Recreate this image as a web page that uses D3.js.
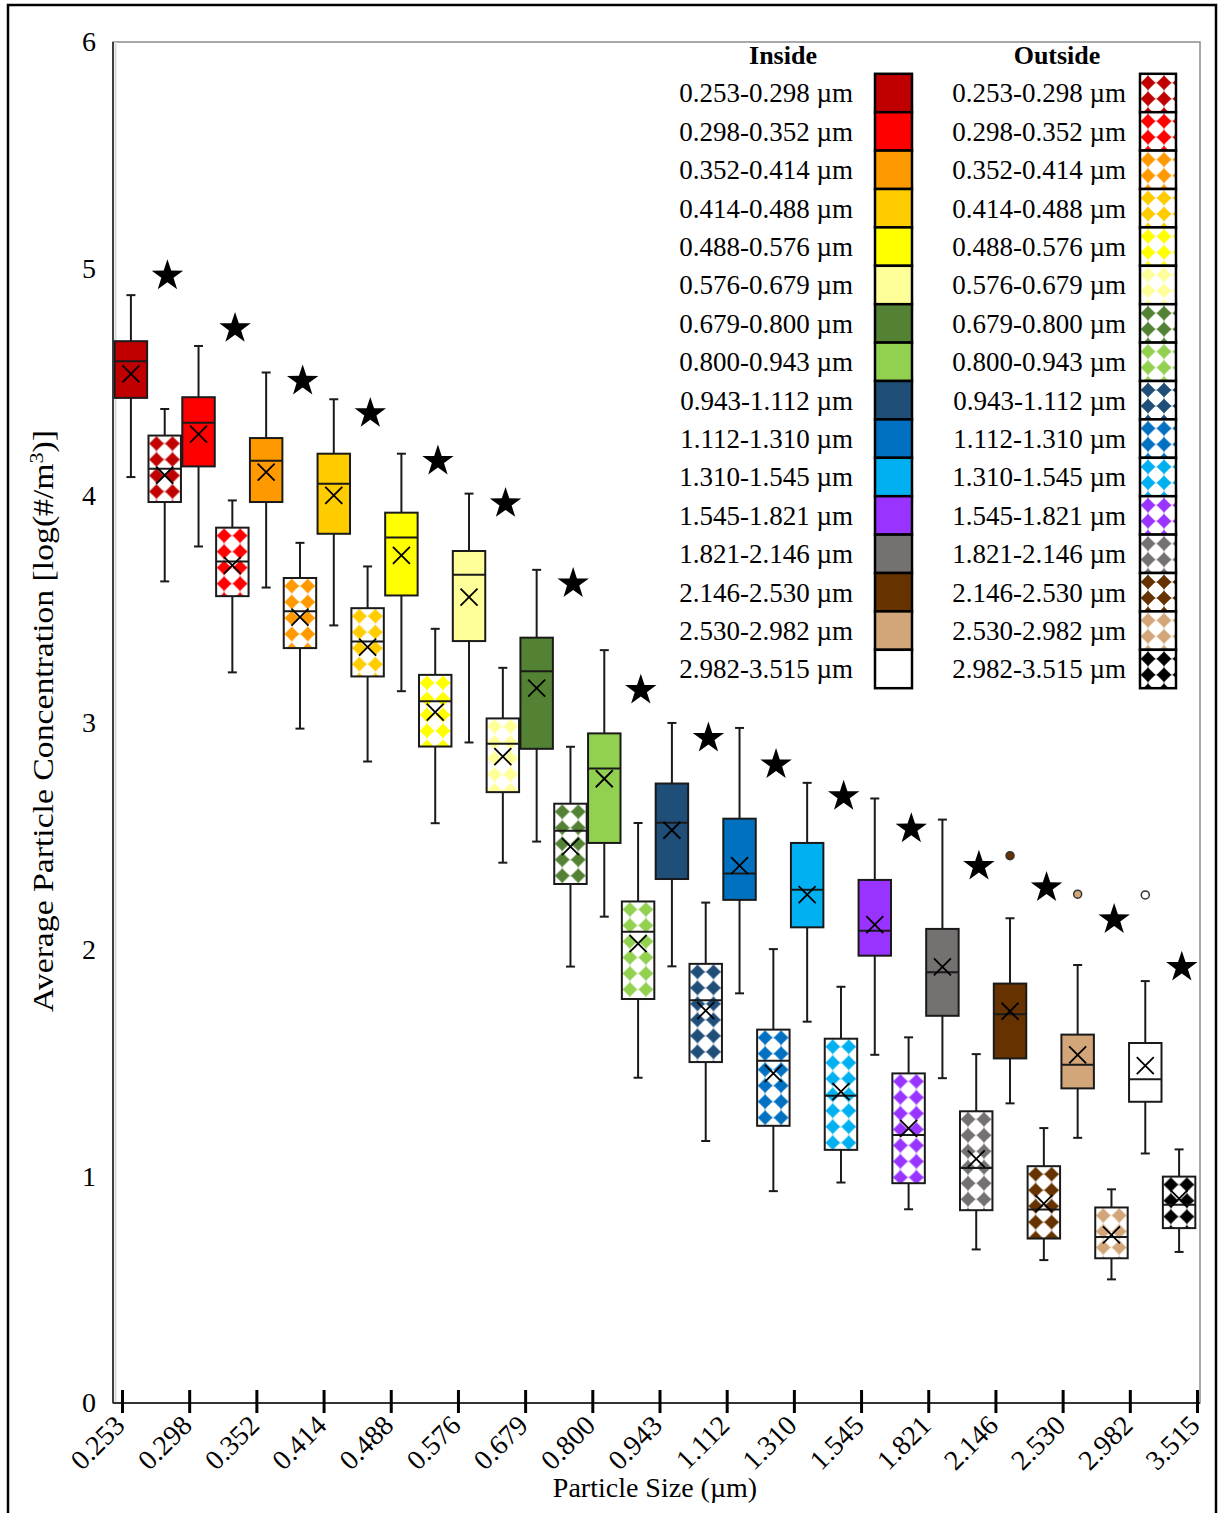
<!DOCTYPE html>
<html><head><meta charset="utf-8">
<script src="https://cdn.jsdelivr.net/npm/d3@7"></script>
<style>
body{margin:0;background:#fff}
svg{display:block}
text{font-family:"Liberation Serif","Times New Roman",serif;fill:#000}
</style>
</head><body>
<svg id="chart" width="1223" height="1513"></svg>
<script>
// ---------------- data ----------------
const bins = ["0.253-0.298","0.298-0.352","0.352-0.414","0.414-0.488","0.488-0.576","0.576-0.679","0.679-0.800","0.800-0.943","0.943-1.112","1.112-1.310","1.310-1.545","1.545-1.821","1.821-2.146","2.146-2.530","2.530-2.982","2.982-3.515"];
const edges = ["0.253","0.298","0.352","0.414","0.488","0.576","0.679","0.800","0.943","1.112","1.310","1.545","1.821","2.146","2.530","2.982","3.515"];
const insideColors  = ["#C00000","#FF0000","#FF9900","#FFCC00","#FFFF00","#FFFF99","#548235","#92D050","#1F4E79","#0070C0","#00B0F0","#9933FF","#767171","#663300","#D2A679","#FFFFFF"];
const outsideColors = ["#C00000","#FF0000","#FF9900","#FFCC00","#FFFF00","#FFFF99","#548235","#92D050","#1F4E79","#0070C0","#00B0F0","#9933FF","#767171","#663300","#D2A679","#000000"];

const inMax  = [4.884,4.660,4.543,4.425,4.185,4.009,3.673,3.319,2.998,2.976,2.734,2.665,2.572,2.137,1.931,1.860];
const inQ3   = [4.681,4.434,4.254,4.185,3.925,3.756,3.374,2.952,2.731,2.576,2.469,2.306,2.090,1.849,1.624,1.587];
const inMed  = [4.593,4.322,4.154,4.053,3.816,3.651,3.226,2.797,2.558,2.334,2.263,2.082,1.899,1.714,1.491,1.427];
const inMean = [4.537,4.271,4.104,4.001,3.737,3.553,3.152,2.752,2.525,2.369,2.241,2.109,1.923,1.727,1.535,1.487];
const inQ1   = [4.431,4.129,3.972,3.832,3.560,3.359,2.884,2.469,2.310,2.218,2.097,1.972,1.707,1.519,1.387,1.328];
const inMin  = [4.082,3.776,3.595,3.428,3.138,2.912,2.475,2.144,1.925,1.806,1.681,1.535,1.432,1.321,1.169,1.100];

const outMax  = [4.382,3.979,3.792,3.688,3.413,3.241,2.893,2.557,2.206,2.001,1.835,1.612,1.538,1.212,0.942,1.118];
const outQ3   = [4.265,3.859,3.637,3.504,3.210,3.018,2.642,2.211,1.936,1.646,1.606,1.453,1.286,1.044,0.862,0.998];
const outMed  = [4.119,3.710,3.490,3.357,3.094,2.906,2.523,2.077,1.776,1.509,1.354,1.182,1.036,0.853,0.732,0.874];
const outMean = [4.090,3.693,3.465,3.332,3.046,2.850,2.453,2.025,1.730,1.453,1.373,1.211,1.076,0.879,0.741,0.901];
const outQ1   = [3.972,3.557,3.328,3.203,2.894,2.693,2.288,1.781,1.503,1.222,1.116,0.969,0.850,0.725,0.638,0.771];
const outMin  = [3.622,3.221,2.973,2.828,2.556,2.382,1.924,1.434,1.155,0.934,0.972,0.854,0.677,0.630,0.545,0.666];

const starValues = [4.976,4.744,4.512,4.369,4.159,3.972,3.619,3.149,2.938,2.821,2.681,2.538,2.373,2.279,2.138,1.928];
const outlierBins   = ["2.146-2.530","2.530-2.982","2.982-3.515"];
const outlierValues = [2.413,2.243,2.240];
const yTickValues = [0,1,2,3,4,5,6];
const groups = ["Inside","Outside"];

// ---------------- setup ----------------
const svg = d3.select("#chart");
const plot = {left:113, right:1200, top:42, bottom:1403};
const y  = d3.scaleLinear().domain([0,6]).range([plot.bottom, plot.top]);
const x  = d3.scaleBand().domain(bins).range([114,1196]).padding(0);
const xs = d3.scaleBand().domain(groups).range([0, x.bandwidth()]).paddingInner(0.04).paddingOuter(0.02);
const xt = d3.scalePoint().domain(edges).range([122,1197]);
const ly = d3.scalePoint().domain(bins).range([93,669]);

const defs = svg.append("defs");
const tile = 16;
const diamondPath = "M8,0 L9,1.7 L14.3,7 L16,8 L14.3,9 L9,14.3 L8,16 L7,14.3 L1.7,9 L0,8 L1.7,7 L7,1.7 Z";
function makePattern(id, color, tx, ty){
  const p = defs.append("pattern").attr("id", id)
    .attr("patternUnits","userSpaceOnUse").attr("width",tile).attr("height",tile)
    .attr("patternTransform",`translate(${tx},${ty})`);
  p.append("rect").attr("width",tile).attr("height",tile).attr("fill","#fff");
  p.append("path").attr("d",diamondPath).attr("fill",color);
  return `url(#${id})`;
}

// outer frame
svg.append("rect").attr("x",8).attr("y",5).attr("width",1208).attr("height",1520)
  .attr("fill","#fff").attr("stroke","#000").attr("stroke-width",2.5);

// plot area
svg.append("rect").attr("x",plot.left).attr("y",plot.top)
  .attr("width",plot.right-plot.left).attr("height",plot.bottom-plot.top)
  .attr("fill","#fff").attr("stroke","#8c8c8c").attr("stroke-width",1.5);
svg.append("line").attr("x1",plot.left+2.5).attr("x2",plot.left+2.5).attr("y1",plot.top).attr("y2",plot.bottom)
  .attr("stroke","#d9d9d9").attr("stroke-width",2);
svg.append("line").attr("x1",plot.left).attr("x2",plot.left).attr("y1",plot.top).attr("y2",plot.bottom)
  .attr("stroke","#404040").attr("stroke-width",2);

// y axis
const yAxis = svg.append("g").attr("transform",`translate(${plot.left},0)`)
  .call(d3.axisLeft(y).tickValues(yTickValues).tickSize(0).tickPadding(17).tickFormat(d3.format("d")));
yAxis.select(".domain").remove();
yAxis.selectAll("text").attr("font-size",28).attr("font-family","Liberation Serif");

// x axis
const xAxis = svg.append("g").attr("transform",`translate(0,${plot.bottom})`)
  .call(d3.axisBottom(xt).tickSize(10).tickPadding(0));
xAxis.select(".domain").attr("d",`M${plot.left},0H${plot.right}`).attr("stroke","#333").attr("stroke-width",2);
xAxis.selectAll(".tick line").attr("y1",-13).attr("y2",10).attr("stroke","#000").attr("stroke-width",3);
xAxis.selectAll(".tick text")
  .attr("font-size",28).attr("font-family","Liberation Serif")
  .attr("text-anchor","end").attr("y",0).attr("dy",0)
  .attr("transform","translate(4,24) rotate(-45)");

// axis titles
const yt = svg.append("text").attr("transform","translate(53,721) rotate(-90)")
  .attr("text-anchor","middle").attr("font-size",29)
  .attr("textLength",582).attr("lengthAdjust","spacingAndGlyphs");
yt.append("tspan").text("Average Particle Concentration [log(#/m");
yt.append("tspan").attr("baseline-shift","super").attr("font-size",19).text("3");
yt.append("tspan").text(")]");
svg.append("text").attr("x",655).attr("y",1497).attr("text-anchor","middle").attr("font-size",28)
  .text("Particle Size (µm)");

// ---------------- boxes ----------------
const boxData = bins.flatMap((b,i)=>[
  {bin:b,i,grp:"Inside",min:inMin[i],q1:inQ1[i],med:inMed[i],q3:inQ3[i],max:inMax[i],mean:inMean[i]},
  {bin:b,i,grp:"Outside",min:outMin[i],q1:outQ1[i],med:outMed[i],q3:outQ3[i],max:outMax[i],mean:outMean[i]}
]);
const bw = xs.bandwidth();
const cx = d => x(d.bin) + xs(d.grp) + bw/2;

const g = svg.append("g");
const box = g.selectAll("g.box").data(boxData).join("g").attr("class","box");
box.append("line").attr("x1",cx).attr("x2",cx).attr("y1",d=>y(d.max)).attr("y2",d=>y(d.min))
  .attr("stroke","#1a1a1a").attr("stroke-width",2);
box.append("line").attr("x1",d=>cx(d)-4.5).attr("x2",d=>cx(d)+4.5).attr("y1",d=>y(d.max)).attr("y2",d=>y(d.max))
  .attr("stroke","#1a1a1a").attr("stroke-width",2);
box.append("line").attr("x1",d=>cx(d)-4.5).attr("x2",d=>cx(d)+4.5).attr("y1",d=>y(d.min)).attr("y2",d=>y(d.min))
  .attr("stroke","#1a1a1a").attr("stroke-width",2);
box.append("rect")
  .attr("x",d=>x(d.bin)+xs(d.grp)).attr("width",bw)
  .attr("y",d=>y(d.q3)).attr("height",d=>y(d.q1)-y(d.q3))
  .attr("fill",d=> d.grp==="Inside" ? insideColors[d.i]
        : makePattern("pb"+d.i, outsideColors[d.i], x(d.bin)+xs(d.grp), y(d.q3)))
  .attr("stroke","#1a1a1a").attr("stroke-width",2);
box.append("line").attr("x1",d=>x(d.bin)+xs(d.grp)).attr("x2",d=>x(d.bin)+xs(d.grp)+bw)
  .attr("y1",d=>y(d.med)).attr("y2",d=>y(d.med)).attr("stroke","#1a1a1a").attr("stroke-width",2);
box.append("path")
  .attr("d",d=>{const X=cx(d),Y=y(d.mean),s=8.5;return `M${X-s},${Y-s}L${X+s},${Y+s}M${X-s},${Y+s}L${X+s},${Y-s}`;})
  .attr("stroke","#000").attr("stroke-width",1.8).attr("fill","none");

// outliers
svg.append("g").selectAll("circle").data(outlierBins.map((b,k)=>({bin:b,v:outlierValues[k]})))
  .join("circle")
  .attr("cx",d=>x(d.bin)+xs("Inside")+bw/2).attr("cy",d=>y(d.v)).attr("r",4)
  .attr("fill",d=>insideColors[bins.indexOf(d.bin)]).attr("stroke","#333").attr("stroke-width",1.5);

// stars
function starPath(R,r){const p=[];for(let k=0;k<10;k++){const a=-Math.PI/2+k*Math.PI/5,rad=k%2?r:R;p.push([rad*Math.cos(a),rad*Math.sin(a)]);}return "M"+p.map(q=>q[0].toFixed(2)+","+q[1].toFixed(2)).join("L")+"Z";}
const sp = starPath(16.5,6.4);
svg.append("g").selectAll("path").data(bins.map((b,k)=>({bin:b,v:starValues[k]})))
  .join("path").attr("d",sp).attr("fill","#000")
  .attr("transform",d=>`translate(${x(d.bin)+0.79*x.bandwidth()},${y(d.v)+1.5})`);

// ---------------- legend ----------------
const lg = svg.append("g");
lg.append("text").attr("x",783).attr("y",55).attr("dy","0.35em").attr("text-anchor","middle")
  .attr("font-size",26).attr("font-weight","bold").text("Inside");
lg.append("text").attr("x",1057).attr("y",55).attr("dy","0.35em").attr("text-anchor","middle")
  .attr("font-size",26).attr("font-weight","bold").text("Outside");
const rowH = ly.step();
lg.selectAll("text.li").data(bins).join("text").attr("class","li")
  .attr("x",853).attr("y",d=>ly(d)).attr("dy","0.35em").attr("text-anchor","end").attr("font-size",27)
  .text(d=>d+" µm");
lg.selectAll("text.lo").data(bins).join("text").attr("class","lo")
  .attr("x",1126).attr("y",d=>ly(d)).attr("dy","0.35em").attr("text-anchor","end").attr("font-size",27)
  .text(d=>d+" µm");
lg.selectAll("rect.si").data(bins).join("rect").attr("class","si")
  .attr("x",875).attr("width",37).attr("y",d=>ly(d)-rowH/2).attr("height",rowH)
  .attr("fill",(d,i)=>insideColors[i]).attr("stroke","#000").attr("stroke-width",2.5);
lg.selectAll("rect.so").data(bins).join("rect").attr("class","so")
  .attr("x",1140).attr("width",36).attr("y",d=>ly(d)-rowH/2).attr("height",rowH)
  .attr("fill",(d,i)=>makePattern("pl"+i, outsideColors[i], 1140, ly(d)-rowH/2+1))
  .attr("stroke","#000").attr("stroke-width",2.5);
</script>
</body></html>
